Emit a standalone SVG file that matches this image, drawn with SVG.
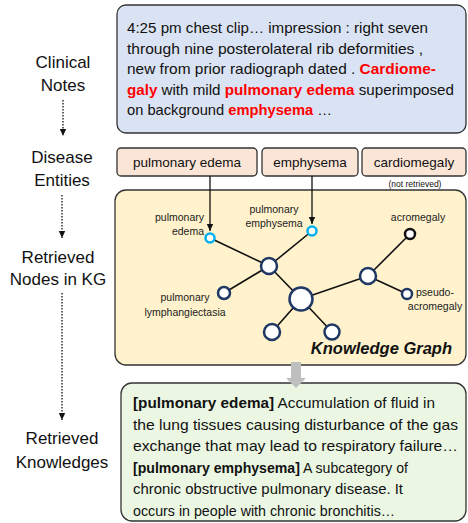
<svg xmlns="http://www.w3.org/2000/svg" width="468" height="523" viewBox="0 0 468 523">
<defs>
<style>
text{font-family:"Liberation Sans",Arial,sans-serif;fill:#111}
.side{font-size:17px;text-anchor:middle}
.note{font-size:15px}
.r{fill:#ff0000;font-weight:bold}
.b{font-weight:bold}
.ent{font-size:13.5px;text-anchor:middle}
.lbl{font-size:10.5px;fill:#222}
.kg{fill:#fff}
.nd{fill:#fff;stroke:#1f3864;stroke-width:2.5}
.cy{fill:#fff;stroke:#00b0f0;stroke-width:2.5}
.dot{stroke:#111;stroke-width:1.3;stroke-dasharray:1.5 1.5;fill:none}
.edge{stroke:#111;stroke-width:1.6}
.box{stroke:#333;stroke-width:1.3}
</style>
<marker id="ah" markerWidth="8" markerHeight="8" refX="7" refY="4" orient="auto" markerUnits="userSpaceOnUse">
<path d="M0,0.8 L7,4 L0,7.2 z" fill="#111"/>
</marker>
</defs>

<g id="side-labels">
<text class="side" x="63" y="68">Clinical</text>
<text class="side" x="63" y="91">Notes</text>
<text class="side" x="62" y="163">Disease</text>
<text class="side" x="62" y="186">Entities</text>
<text class="side" x="58" y="263">Retrieved</text>
<text class="side" x="58" y="285">Nodes in KG</text>
<text class="side" x="62" y="444">Retrieved</text>
<text class="side" x="62" y="468">Knowledges</text>
</g>

<g id="side-arrows">
<line class="dot" x1="63" y1="100" x2="63" y2="136" marker-end="url(#ah)"/>
<line class="dot" x1="62" y1="195" x2="62" y2="238" marker-end="url(#ah)"/>
<line class="dot" x1="62" y1="293" x2="62" y2="420" marker-end="url(#ah)"/>
</g>

<g id="clinical-notes">
<rect class="box" x="117" y="5" width="349" height="128" rx="9" fill="#dae3f3"/>
<text class="note" x="127" y="33" textLength="301" lengthAdjust="spacingAndGlyphs">4:25 pm chest clip… impression : right seven</text>
<text class="note" x="127" y="53.5" textLength="296" lengthAdjust="spacingAndGlyphs">through nine posterolateral rib deformities ,</text>
<text class="note" x="127" y="74" textLength="309" lengthAdjust="spacingAndGlyphs">new from prior radiograph dated . <tspan class="r">Cardiome-</tspan></text>
<text class="note" x="127" y="94.5" textLength="327" lengthAdjust="spacingAndGlyphs"><tspan class="r">galy</tspan> with mild <tspan class="r">pulmonary edema</tspan> superimposed</text>
<text class="note" x="127" y="115" textLength="205" lengthAdjust="spacingAndGlyphs">on background <tspan class="r">emphysema</tspan> …</text>
</g>

<g id="entity-pulmonary-edema">
<rect class="box" x="117" y="148" width="140" height="28" rx="4" fill="#fbe5d6"/>
<text class="ent" x="187" y="167">pulmonary edema</text>
</g>
<g id="entity-emphysema">
<rect class="box" x="262" y="148" width="96" height="28" rx="4" fill="#fbe5d6"/>
<text class="ent" x="310" y="167">emphysema</text>
</g>
<g id="entity-cardiomegaly">
<rect class="box" x="362" y="148" width="104" height="28" rx="4" fill="#fbe5d6"/>
<text class="ent" x="414" y="167">cardiomegaly</text>
<text x="415" y="187" font-size="8.5" text-anchor="middle" fill="#222">(not retrieved)</text>
</g>

<g id="knowledge-graph">
<rect class="box" x="115" y="190" width="351" height="175" rx="11" fill="#fff2cc"/>
<text x="452" y="354" font-size="16.5" font-weight="bold" font-style="italic" text-anchor="end">Knowledge Graph</text>
</g>

<g id="connectors">
<line x1="210" y1="176" x2="210" y2="231" stroke="#111" stroke-width="1.3" marker-end="url(#ah)"/>
<line x1="312" y1="176" x2="312" y2="224" stroke="#111" stroke-width="1.3" marker-end="url(#ah)"/>
<line class="edge" x1="210" y1="238" x2="269" y2="266"/>
<line class="edge" x1="312" y1="231" x2="269" y2="266"/>
<line class="edge" x1="269" y1="266" x2="224" y2="293"/>
<line class="edge" x1="269" y1="266" x2="301" y2="299"/>
<line class="edge" x1="301" y1="299" x2="368" y2="276"/>
<line class="edge" x1="368" y1="276" x2="410" y2="234"/>
<line class="edge" x1="368" y1="276" x2="407" y2="294"/>
<line class="edge" x1="301" y1="299" x2="272" y2="332"/>
<line class="edge" x1="301" y1="299" x2="332" y2="332"/>
</g>

<g id="node-pulmonary-edema">
<circle class="cy" cx="210" cy="238" r="4.5"/>
<text class="lbl" x="204" y="221" text-anchor="end">pulmonary</text>
<text class="lbl" x="204" y="235" text-anchor="end">edema</text>
</g>
<g id="node-pulmonary-emphysema">
<circle class="cy" cx="312" cy="231" r="4.5"/>
<text class="lbl" x="274" y="213" text-anchor="middle">pulmonary</text>
<text class="lbl" x="274" y="227" text-anchor="middle">emphysema</text>
</g>
<g id="node-acromegaly">
<circle cx="410" cy="234" r="5" fill="#fff" stroke="#111" stroke-width="2.5"/>
<text class="lbl" x="418" y="221" text-anchor="middle">acromegaly</text>
</g>
<g id="node-hub1"><circle class="nd" cx="269" cy="266" r="8"/></g>
<g id="node-hub-center"><circle class="nd" cx="301" cy="299" r="11.5"/></g>
<g id="node-hub-right"><circle class="nd" cx="368" cy="276" r="8"/></g>
<g id="node-pseudo-acromegaly">
<circle class="nd" cx="407" cy="294" r="5"/>
<text class="lbl" x="435" y="296" text-anchor="middle">pseudo-</text>
<text class="lbl" x="435" y="310" text-anchor="middle">acromegaly</text>
</g>
<g id="node-pulmonary-lymphangiectasia">
<circle class="nd" cx="224" cy="293" r="6"/>
<text class="lbl" x="185" y="301" text-anchor="middle">pulmonary</text>
<text class="lbl" x="185" y="316" text-anchor="middle">lymphangiectasia</text>
</g>
<g id="node-bottom-left"><circle class="nd" cx="272" cy="332" r="8"/></g>
<g id="node-bottom-right"><circle class="nd" cx="332" cy="332" r="7.5"/></g>

<g id="retrieved-knowledge">
<rect class="box" x="121" y="383" width="345" height="138" rx="11" fill="#ebf7e3"/>
<text class="note" x="133" y="408" textLength="302" lengthAdjust="spacingAndGlyphs"><tspan class="b">[pulmonary edema]</tspan> Accumulation of fluid in</text>
<text class="note" x="133" y="429.5" textLength="325" lengthAdjust="spacingAndGlyphs">the lung tissues causing disturbance of the gas</text>
<text class="note" x="133" y="451" textLength="325" lengthAdjust="spacingAndGlyphs">exchange that may lead to respiratory failure…</text>
<text class="note" x="133" y="472.5" textLength="275" lengthAdjust="spacingAndGlyphs"><tspan class="b">[pulmonary emphysema]</tspan> A subcategory of</text>
<text class="note" x="133" y="494" textLength="270" lengthAdjust="spacingAndGlyphs">chronic obstructive pulmonary disease. It</text>
<text class="note" x="133" y="515.5" textLength="262" lengthAdjust="spacingAndGlyphs">occurs in people with chronic bronchitis…</text>
</g>

<g id="kg-to-knowledge-arrow">
<path d="M291,362 H301 V378 H306 L296,388 L286,378 H291 Z" fill="#bfbfbf"/>
</g>
</svg>
